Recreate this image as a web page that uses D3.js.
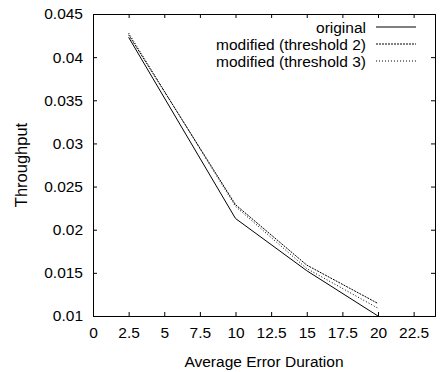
<!DOCTYPE html>
<html>
<head>
<meta charset="utf-8">
<script src="https://cdn.jsdelivr.net/npm/d3@7"></script>
<style>
  body { margin: 0; background: #fff; }
  text { font-family: "Liberation Sans", Arial, sans-serif; fill: #000; }
</style>
</head>
<body>
<script>
const w = 441
const h = 372
const margin = {top: 14, right: 6, bottom: 56, left: 93}

const errorDuration = [2.5, 10, 15, 20]
const original = [0.0423, 0.0213, 0.01525, 0.0100]
const threshold2 = [0.0426, 0.0229, 0.0159, 0.01145]
const threshold3 = [0.0428, 0.0227, 0.0155, 0.0109]
const xTicks = [0, 2.5, 5, 7.5, 10, 12.5, 15, 17.5, 20, 22.5]
const yTicks = [0.01, 0.015, 0.02, 0.025, 0.03, 0.035, 0.04, 0.045]

const series = [
  {name: 'original', values: original, dash: null},
  {name: 'modified (threshold 2)', values: threshold2, dash: '2,1'},
  {name: 'modified (threshold 3)', values: threshold3, dash: '1,2'}
]

const svg = d3.select('body').append('svg')
  .attr('width', w)
  .attr('height', h)

const x = d3.scaleLinear().domain([0, 24]).range([margin.left, w - margin.right])
const y = d3.scaleLinear().domain([0.01, 0.045]).range([h - margin.bottom, margin.top])

const fmtX = d => String(d)
const fmtY = d => String(+d.toFixed(3))

// axes with inward ticks, mirrored on top/right
svg.append('g')
  .attr('transform', `translate(0,${y.range()[0]})`)
  .call(d3.axisBottom(x).tickValues(xTicks).tickSize(-4).tickPadding(11).tickFormat(fmtX))
svg.append('g')
  .attr('transform', `translate(0,${y.range()[1]})`)
  .call(d3.axisTop(x).tickValues(xTicks).tickSize(-4).tickFormat(''))
svg.append('g')
  .attr('transform', `translate(${x.range()[0]},0)`)
  .call(d3.axisLeft(y).tickValues(yTicks).tickSize(-4).tickPadding(10).tickFormat(fmtY))
svg.append('g')
  .attr('transform', `translate(${x.range()[1]},0)`)
  .call(d3.axisRight(y).tickValues(yTicks).tickSize(-4).tickFormat(''))

svg.selectAll('.domain').attr('stroke', '#000')
svg.selectAll('.tick line').attr('stroke', '#000')
svg.selectAll('.tick text')
  .style('font-family', '"Liberation Sans", Arial, sans-serif')
  .style('font-size', '15.5px')

svg.append('text')
  .attr('x', (x.range()[0] + x.range()[1]) / 2)
  .attr('y', 367)
  .attr('text-anchor', 'middle')
  .style('font-size', '15.5px')
  .text('Average Error Duration')

svg.append('text')
  .attr('transform', `translate(27,${(y.range()[0] + y.range()[1]) / 2}) rotate(-90)`)
  .attr('text-anchor', 'middle')
  .style('font-size', '16.5px')
  .text('Throughput')

const line = d3.line()
  .x((d, i) => x(errorDuration[i]))
  .y(d => y(d))

svg.append('g').selectAll('path')
  .data(series)
  .enter().append('path')
  .attr('d', d => line(d.values))
  .attr('fill', 'none')
  .attr('stroke', '#000')
  .attr('stroke-width', 1)
  .attr('stroke-dasharray', d => d.dash)

// legend
const legend = svg.append('g')
  .selectAll('g')
  .data(series)
  .enter().append('g')
  .attr('transform', (d, i) => `translate(0,${27 + i * 17})`)

legend.append('text')
  .attr('x', 366)
  .attr('y', 5.5)
  .attr('text-anchor', 'end')
  .style('font-size', '15.5px')
  .text(d => d.name)

legend.append('line')
  .attr('x1', 376)
  .attr('x2', 416)
  .attr('stroke', '#000')
  .attr('stroke-dasharray', d => d.dash)
</script>
</body>
</html>
